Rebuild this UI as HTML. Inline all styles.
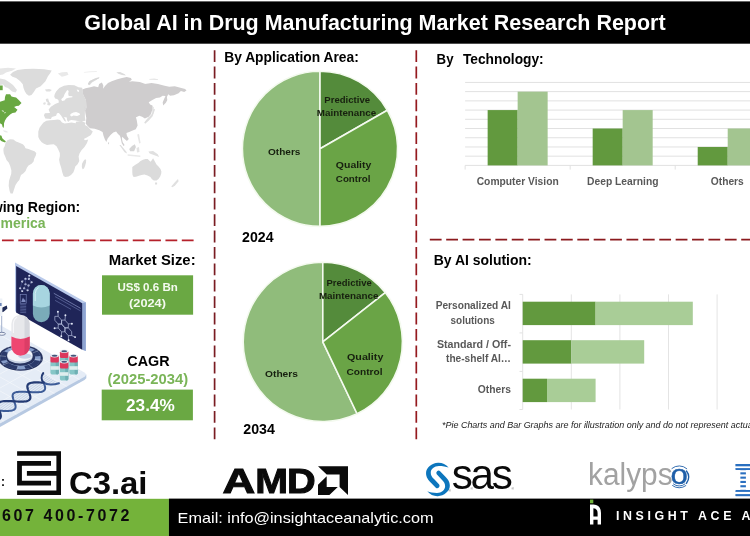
<!DOCTYPE html>
<html lang="en"><head><meta charset="utf-8"><title>Global AI in Drug Manufacturing Market Research Report</title>
<style>
html,body{margin:0;padding:0;background:#fff;}
body{width:750px;height:536px;overflow:hidden;}
svg{display:block;font-family:"Liberation Sans",sans-serif;}
</style></head><body>
<svg width="750" height="536" viewBox="0 0 750 536">
<defs><filter id="mb" x="-5%" y="-5%" width="110%" height="110%"><feGaussianBlur stdDeviation="0.45"/></filter></defs>
<rect width="750" height="536" fill="#fff"/>
<g id="illustration">
<polygon points="86.30,374.50 86.30,378.20 84.50,380.00 0.00,427.00 0.00,423.00" fill="#b7c9e2"/>
<polygon points="86.30,374.20 84.00,372.20 0.00,325.00 0.00,423.40 85.00,376.40" fill="#e5ecf6"/>
<clipPath id="fl"><polygon points="86.30,374.20 84.00,372.20 0.00,325.00 0.00,423.40 85.00,376.40"/></clipPath><g clip-path="url(#fl)">
<line x1="0" y1="307.0" x2="86" y2="355.2" stroke="#f3f7fb" stroke-width="0.7"/>
<line x1="0" y1="321.0" x2="86" y2="369.2" stroke="#f3f7fb" stroke-width="0.7"/>
<line x1="0" y1="335.0" x2="86" y2="383.2" stroke="#f3f7fb" stroke-width="0.7"/>
<line x1="0" y1="349.0" x2="86" y2="397.2" stroke="#f3f7fb" stroke-width="0.7"/>
<line x1="0" y1="363.0" x2="86" y2="411.2" stroke="#f3f7fb" stroke-width="0.7"/>
<line x1="0" y1="377.0" x2="86" y2="425.2" stroke="#f3f7fb" stroke-width="0.7"/>
<line x1="0" y1="391.0" x2="86" y2="439.2" stroke="#f3f7fb" stroke-width="0.7"/>
<line x1="0" y1="405.0" x2="86" y2="453.2" stroke="#f3f7fb" stroke-width="0.7"/>
<line x1="0" y1="419.0" x2="86" y2="467.2" stroke="#f3f7fb" stroke-width="0.7"/>
<line x1="0" y1="360.0" x2="86" y2="311.8" stroke="#f3f7fb" stroke-width="0.7"/>
<line x1="0" y1="374.0" x2="86" y2="325.8" stroke="#f3f7fb" stroke-width="0.7"/>
<line x1="0" y1="388.0" x2="86" y2="339.8" stroke="#f3f7fb" stroke-width="0.7"/>
<line x1="0" y1="402.0" x2="86" y2="353.8" stroke="#f3f7fb" stroke-width="0.7"/>
<line x1="0" y1="416.0" x2="86" y2="367.8" stroke="#f3f7fb" stroke-width="0.7"/>
<line x1="0" y1="430.0" x2="86" y2="381.8" stroke="#f3f7fb" stroke-width="0.7"/>
<line x1="0" y1="444.0" x2="86" y2="395.8" stroke="#f3f7fb" stroke-width="0.7"/>
<line x1="0" y1="458.0" x2="86" y2="409.8" stroke="#f3f7fb" stroke-width="0.7"/>
</g>
<polygon points="15.00,262.40 85.80,302.20 85.80,351.00 15.00,311.20" fill="#b9c9ea"/>
<polygon points="82.20,303.20 85.80,302.20 85.80,351.00 82.20,349.80" fill="#8ea4d2"/>
<polygon points="16.10,265.90 82.20,303.30 82.20,349.80 16.10,312.60" fill="#1f2558"/>
<rect x="32.9" y="285" width="16.8" height="37.2" rx="8.4" fill="#7aabb9"/>
<path d="M32.9,305.5 V293.4 A8.4,8.4 0 0 1 49.7,293.4 V305.5 Q41.3,309.5 32.9,305.5 Z" fill="#a7d5e0"/>
<path d="M35.2,301 V293.5 Q35.6,289 38.6,287.6" fill="none" stroke="#d3eef4" stroke-width="1"/>
<circle cx="29.3" cy="275.8" r="1.05" fill="#e6ecfa"/>
<circle cx="25.5" cy="278.9" r="1.05" fill="#e6ecfa"/>
<circle cx="28.9" cy="278.9" r="1.05" fill="#e6ecfa"/>
<circle cx="22.2" cy="281.6" r="1.05" fill="#e6ecfa"/>
<circle cx="31.6" cy="282.3" r="1.05" fill="#e6ecfa"/>
<circle cx="25.5" cy="284.3" r="1.05" fill="#e6ecfa"/>
<circle cx="28.5" cy="285.6" r="1.05" fill="#e6ecfa"/>
<circle cx="20.2" cy="288.3" r="1.05" fill="#e6ecfa"/>
<circle cx="24.2" cy="288.3" r="1.05" fill="#e6ecfa"/>
<circle cx="22.2" cy="291.0" r="1.05" fill="#e6ecfa"/>
<circle cx="27.6" cy="290.3" r="1.05" fill="#e6ecfa"/>
<line x1="29.3" y1="275.8" x2="28.9" y2="278.9" stroke="#5e6aa6" stroke-width="0.45"/>
<line x1="25.5" y1="278.9" x2="28.9" y2="278.9" stroke="#5e6aa6" stroke-width="0.45"/>
<line x1="25.5" y1="278.9" x2="22.2" y2="281.6" stroke="#5e6aa6" stroke-width="0.45"/>
<line x1="28.9" y1="278.9" x2="31.6" y2="282.3" stroke="#5e6aa6" stroke-width="0.45"/>
<line x1="25.5" y1="278.9" x2="25.5" y2="284.3" stroke="#5e6aa6" stroke-width="0.45"/>
<line x1="25.5" y1="284.3" x2="28.5" y2="285.6" stroke="#5e6aa6" stroke-width="0.45"/>
<line x1="31.6" y1="282.3" x2="28.5" y2="285.6" stroke="#5e6aa6" stroke-width="0.45"/>
<line x1="22.2" y1="281.6" x2="20.2" y2="288.3" stroke="#5e6aa6" stroke-width="0.45"/>
<line x1="25.5" y1="284.3" x2="24.2" y2="288.3" stroke="#5e6aa6" stroke-width="0.45"/>
<line x1="20.2" y1="288.3" x2="22.2" y2="291.0" stroke="#5e6aa6" stroke-width="0.45"/>
<line x1="24.2" y1="288.3" x2="22.2" y2="291.0" stroke="#5e6aa6" stroke-width="0.45"/>
<line x1="28.5" y1="285.6" x2="27.6" y2="290.3" stroke="#5e6aa6" stroke-width="0.45"/>
<line x1="24.2" y1="288.3" x2="27.6" y2="290.3" stroke="#5e6aa6" stroke-width="0.45"/>
<rect x="20.2" y="294.6" width="6" height="8.6" fill="none" stroke="#7f8cc0" stroke-width="0.6"/>
<polygon points="21.2,302 23,297.5 24.3,300 25,299 25.6,302" fill="#7f8cc0"/>
<line x1="20.2" y1="304.6" x2="26.2" y2="304.9" stroke="#6c79b0" stroke-width="0.6"/>
<line x1="20.2" y1="306.2" x2="26.2" y2="306.5" stroke="#6c79b0" stroke-width="0.6"/>
<line x1="20.2" y1="307.7" x2="26.2" y2="308.0" stroke="#6c79b0" stroke-width="0.6"/>
<line x1="20.2" y1="309.2" x2="26.2" y2="309.6" stroke="#6c79b0" stroke-width="0.6"/>
<line x1="20.2" y1="310.8" x2="26.2" y2="311.1" stroke="#6c79b0" stroke-width="0.6"/>
<line x1="20.2" y1="312.4" x2="26.2" y2="312.7" stroke="#6c79b0" stroke-width="0.6"/>
<line x1="53.8" y1="293.3" x2="80.6" y2="308.3" stroke="#8a94c4" stroke-width="0.7"/>
<line x1="55.1" y1="296.6" x2="80.6" y2="310.9" stroke="#6f7ab0" stroke-width="0.6"/>
<line x1="55.1" y1="300.4" x2="71.0" y2="309.3" stroke="#6f7ab0" stroke-width="0.6"/>
<polygon points="61.58,324.04 58.20,324.10 54.82,320.26 54.82,316.36 58.20,316.30 61.58,320.14" fill="none" stroke="#c9d3f0" stroke-width="0.6"/>
<polygon points="68.33,327.82 64.95,327.88 61.57,324.04 61.57,320.14 64.95,320.08 68.33,323.92" fill="none" stroke="#c9d3f0" stroke-width="0.6"/>
<polygon points="64.98,331.80 61.60,331.85 58.22,328.01 58.22,324.11 61.60,324.05 64.98,327.90" fill="none" stroke="#c9d3f0" stroke-width="0.6"/>
<polygon points="71.68,335.55 68.30,335.61 64.92,331.76 64.92,327.86 68.30,327.81 71.68,331.65" fill="none" stroke="#c9d3f0" stroke-width="0.6"/>
<line x1="58.2" y1="316.3" x2="57.9" y2="311.7" stroke="#c9d3f0" stroke-width="0.6"/>
<circle cx="57.9" cy="311.7" r="0.95" fill="#e6ecfa"/>
<line x1="65.0" y1="320.1" x2="65.4" y2="315.3" stroke="#c9d3f0" stroke-width="0.6"/>
<circle cx="65.4" cy="315.3" r="0.95" fill="#e6ecfa"/>
<line x1="68.3" y1="323.9" x2="71.9" y2="323.7" stroke="#c9d3f0" stroke-width="0.6"/>
<circle cx="71.9" cy="323.7" r="0.95" fill="#e6ecfa"/>
<line x1="58.2" y1="328.0" x2="54.6" y2="328.2" stroke="#c9d3f0" stroke-width="0.6"/>
<circle cx="54.6" cy="328.2" r="0.95" fill="#e6ecfa"/>
<line x1="61.6" y1="331.9" x2="61.3" y2="336.3" stroke="#c9d3f0" stroke-width="0.6"/>
<circle cx="61.3" cy="336.3" r="0.95" fill="#e6ecfa"/>
<line x1="68.3" y1="335.6" x2="68.6" y2="340.2" stroke="#c9d3f0" stroke-width="0.6"/>
<circle cx="68.6" cy="340.2" r="0.95" fill="#e6ecfa"/>
<line x1="71.7" y1="335.5" x2="75.1" y2="337.1" stroke="#c9d3f0" stroke-width="0.6"/>
<circle cx="75.1" cy="337.1" r="0.95" fill="#e6ecfa"/>
<polygon points="1.20,308.00 6.80,305.60 7.40,308.40 3.60,311.80 1.20,312.40" fill="#1f2a55"/>
<rect x="0" y="298.5" width="2.4" height="17.5" fill="#eef2f8"/>
<rect x="0" y="303" width="1.6" height="3" fill="#6d86b8"/>
<line x1="1.7" y1="316" x2="1.7" y2="333.5" stroke="#a3b0cc" stroke-width="1.0"/>
<ellipse cx="1.8" cy="333.8" rx="3.6" ry="1.5" fill="#eef2f8" stroke="#4a5a84" stroke-width="0.7"/>
<g transform="translate(20.5,357.9) scale(1,0.575)">
<circle r="22.4" fill="#27335f"/>
<circle r="20.2" fill="#869dc9"/>
<path d="M16.81,4.50 A17.4,17.4 0 0 1 4.50,16.81" fill="none" stroke="#2b3a6a" stroke-width="5.6"/>
<path d="M-3.02,17.14 A17.4,17.4 0 0 1 -15.07,8.70" fill="none" stroke="#2b3a6a" stroke-width="5.6"/>
<path d="M-16.81,4.50 A17.4,17.4 0 0 1 -14.25,-9.98" fill="none" stroke="#2b3a6a" stroke-width="5.6"/>
<path d="M-7.35,-15.77 A17.4,17.4 0 0 1 8.70,-15.07" fill="none" stroke="#2b3a6a" stroke-width="5.6"/>
<path d="M12.30,-12.30 A17.4,17.4 0 0 1 17.14,-3.02" fill="none" stroke="#2b3a6a" stroke-width="5.6"/>
<line x1="0" y1="0" x2="21.67" y2="3.82" stroke="#dfe7f3" stroke-width="0.45"/>
<line x1="0" y1="0" x2="12.62" y2="18.02" stroke="#dfe7f3" stroke-width="0.45"/>
<line x1="0" y1="0" x2="-3.82" y2="21.67" stroke="#dfe7f3" stroke-width="0.45"/>
<line x1="0" y1="0" x2="-18.02" y2="12.62" stroke="#dfe7f3" stroke-width="0.45"/>
<line x1="0" y1="0" x2="-21.67" y2="-3.82" stroke="#dfe7f3" stroke-width="0.45"/>
<line x1="0" y1="0" x2="-12.62" y2="-18.02" stroke="#dfe7f3" stroke-width="0.45"/>
<line x1="0" y1="0" x2="3.82" y2="-21.67" stroke="#dfe7f3" stroke-width="0.45"/>
<line x1="0" y1="0" x2="18.02" y2="-12.62" stroke="#dfe7f3" stroke-width="0.45"/>
<circle r="14.6" cy="-0.8" fill="#27335f"/>
</g>
<ellipse cx="19.9" cy="356.8" rx="12.7" ry="6.7" fill="#c6d1e4"/>
<ellipse cx="19.9" cy="354.9" rx="12.7" ry="6.6" fill="#f2f5fa"/>
<ellipse cx="25" cy="356.2" rx="6.5" ry="2.6" fill="#c9d4e8"/>
<rect x="11.4" y="314.7" width="18.2" height="41" rx="9.1" fill="#e7e8eb"/>
<path d="M24.5,316.4 A9.1,9.1 0 0 1 29.6,323.8 V337.6 Q27.4,338.6 24.5,339.2 Z" fill="#d5d7dd"/>
<path d="M11.4,336.6 Q20.5,341.3 29.6,336.6 V346.6 A9.1,9.1 0 0 1 11.4,346.6 Z" fill="#ee4671"/>
<path d="M24.5,339 Q27.4,338.2 29.6,336.8 V346.6 A9.1,9.1 0 0 1 24.5,354.8 Z" fill="#dc3d66"/>
<path d="M13.4,333 V323.6 Q13.8,319 17,317.2" fill="none" stroke="#f8f8fa" stroke-width="1.1"/>
<rect x="59.9" y="356.2" width="8.5" height="13.6" rx="1.6" fill="#86c6c7"/>
<rect x="65.2" y="356.2" width="3.2" height="13.6" rx="1.4" fill="#6fb0b4"/>
<rect x="59.9" y="361.6" width="8.5" height="3.6" fill="#dfeeee"/>
<rect x="59.9" y="350.6" width="8.5" height="7.4" rx="1.6" fill="#dc385d"/>
<ellipse cx="64.2" cy="351.2" rx="4.2" ry="1.7" fill="#e9eef4"/>
<ellipse cx="64.2" cy="351.2" rx="2.9" ry="1.0" fill="#46557a"/>
<rect x="50.4" y="360.8" width="8.5" height="13.6" rx="1.6" fill="#86c6c7"/>
<rect x="55.7" y="360.8" width="3.2" height="13.6" rx="1.4" fill="#6fb0b4"/>
<rect x="50.4" y="366.2" width="8.5" height="3.6" fill="#dfeeee"/>
<rect x="50.4" y="355.2" width="8.5" height="7.4" rx="1.6" fill="#dc385d"/>
<ellipse cx="54.6" cy="355.8" rx="4.2" ry="1.7" fill="#e9eef4"/>
<ellipse cx="54.6" cy="355.8" rx="2.9" ry="1.0" fill="#46557a"/>
<rect x="69.3" y="360.8" width="8.5" height="13.6" rx="1.6" fill="#86c6c7"/>
<rect x="74.6" y="360.8" width="3.2" height="13.6" rx="1.4" fill="#6fb0b4"/>
<rect x="69.3" y="366.2" width="8.5" height="3.6" fill="#dfeeee"/>
<rect x="69.3" y="355.2" width="8.5" height="7.4" rx="1.6" fill="#dc385d"/>
<ellipse cx="73.5" cy="355.8" rx="4.2" ry="1.7" fill="#e9eef4"/>
<ellipse cx="73.5" cy="355.8" rx="2.9" ry="1.0" fill="#46557a"/>
<rect x="59.9" y="366.8" width="8.5" height="13.6" rx="1.6" fill="#86c6c7"/>
<rect x="65.2" y="366.8" width="3.2" height="13.6" rx="1.4" fill="#6fb0b4"/>
<rect x="59.9" y="372.2" width="8.5" height="3.6" fill="#dfeeee"/>
<rect x="59.9" y="361.2" width="8.5" height="7.4" rx="1.6" fill="#dc385d"/>
<ellipse cx="64.2" cy="361.8" rx="4.2" ry="1.7" fill="#e9eef4"/>
<ellipse cx="64.2" cy="361.8" rx="2.9" ry="1.0" fill="#46557a"/>
<clipPath id="dn"><polygon points="43.69,382.67 41.97,382.57 40.26,382.48 38.60,382.42 36.99,382.38 35.47,382.38 34.05,382.44 32.74,382.55 31.57,382.73 30.52,382.97 29.63,383.29 28.88,383.68 28.29,384.15 27.84,384.69 27.54,385.31 27.38,385.99 27.34,386.74 27.42,387.54 27.60,388.39 27.85,389.29 28.17,390.21 28.53,391.15 28.90,392.11 29.28,393.06 29.62,394.00 29.93,394.92 30.17,395.80 30.32,396.64 30.37,397.43 30.31,398.17 30.11,398.83 29.78,399.43 29.30,399.96 28.67,400.41 27.89,400.78 26.96,401.08 25.88,401.31 24.67,401.47 23.33,401.57 21.89,401.61 20.35,401.60 18.73,401.56 17.05,401.49 15.34,401.39 13.61,401.29 11.88,401.20 10.19,401.12 8.54,401.06 6.97,401.03 5.48,401.05 4.09,401.13 2.82,401.26 1.69,401.46 0.69,401.72 -0.16,402.06 -0.85,402.48 -1.40,402.97 -1.79,403.54 -2.05,404.18 -2.17,404.88 -2.17,405.65 -2.06,406.47 -1.85,407.34 -1.58,408.24 -1.24,409.17 -0.88,410.12 -0.50,411.07 -0.13,412.02 0.20,412.96 0.49,413.87 0.70,414.74 0.82,415.56 0.84,416.34 0.73,417.05 0.50,417.69 0.11,418.27 -0.41,418.77 -1.09,419.20 -1.92,419.54 -2.90,419.82 -16.61,412.97 -16.23,412.39 -15.71,411.89 -15.04,411.46 -14.22,411.10 -13.25,410.82 -12.13,410.61 -10.89,410.47 -9.52,410.39 -8.05,410.36 -6.48,410.38 -4.84,410.43 -3.16,410.51 -1.44,410.61 0.29,410.71 2.01,410.80 3.70,410.88 5.33,410.93 6.88,410.94 8.34,410.91 9.70,410.82 10.93,410.67 12.03,410.45 12.98,410.16 13.79,409.80 14.44,409.36 14.95,408.85 15.31,408.26 15.52,407.61 15.61,406.89 15.57,406.10 15.44,405.27 15.21,404.39 14.92,403.48 14.57,402.54 14.20,401.59 13.82,400.64 13.46,399.69 13.14,398.76 12.87,397.87 12.68,397.01 12.59,396.19 12.60,395.44 12.74,394.74 13.02,394.11 13.44,393.56 14.01,393.08 14.73,392.68 15.61,392.35 16.62,392.09 17.78,391.90 19.07,391.78 20.47,391.72 21.98,391.71 23.57,391.74 25.22,391.80 26.93,391.88 28.65,391.98 30.38,392.08 32.09,392.17 33.76,392.24 35.36,392.28 36.89,392.28 38.32,392.23 39.64,392.12 40.83,391.95 41.88,391.71 42.79,391.40 43.54,391.01 44.15,390.55 44.61,390.01 44.92,389.40 45.09,388.72 45.13,387.98 45.06,387.18 44.90,386.33 44.65,385.44 44.33,384.52 43.98,383.58 43.60,382.62"/><polygon points="43.6,382.6 41.4,378 43.2,373.2 47,375.5 59,383.2 52,385 "/></clipPath>
<g clip-path="url(#dn)">
<rect x="-5" y="368" width="70" height="52" fill="#f1f5fa"/>
<line x1="-6" y1="312.0" x2="66" y2="348.0" stroke="#9fb6d6" stroke-width="0.55"/>
<line x1="-6" y1="313.7" x2="66" y2="349.7" stroke="#9fb6d6" stroke-width="0.55"/>
<line x1="-6" y1="315.4" x2="66" y2="351.4" stroke="#9fb6d6" stroke-width="0.55"/>
<line x1="-6" y1="317.1" x2="66" y2="353.1" stroke="#9fb6d6" stroke-width="0.55"/>
<line x1="-6" y1="318.8" x2="66" y2="354.8" stroke="#9fb6d6" stroke-width="0.55"/>
<line x1="-6" y1="320.5" x2="66" y2="356.5" stroke="#9fb6d6" stroke-width="0.55"/>
<line x1="-6" y1="322.2" x2="66" y2="358.2" stroke="#9fb6d6" stroke-width="0.55"/>
<line x1="-6" y1="323.9" x2="66" y2="359.9" stroke="#9fb6d6" stroke-width="0.55"/>
<line x1="-6" y1="325.6" x2="66" y2="361.6" stroke="#9fb6d6" stroke-width="0.55"/>
<line x1="-6" y1="327.3" x2="66" y2="363.3" stroke="#9fb6d6" stroke-width="0.55"/>
<line x1="-6" y1="329.0" x2="66" y2="365.0" stroke="#9fb6d6" stroke-width="0.55"/>
<line x1="-6" y1="330.7" x2="66" y2="366.7" stroke="#9fb6d6" stroke-width="0.55"/>
<line x1="-6" y1="332.4" x2="66" y2="368.4" stroke="#9fb6d6" stroke-width="0.55"/>
<line x1="-6" y1="334.1" x2="66" y2="370.1" stroke="#9fb6d6" stroke-width="0.55"/>
<line x1="-6" y1="335.8" x2="66" y2="371.8" stroke="#9fb6d6" stroke-width="0.55"/>
<line x1="-6" y1="337.5" x2="66" y2="373.5" stroke="#9fb6d6" stroke-width="0.55"/>
<line x1="-6" y1="339.2" x2="66" y2="375.2" stroke="#9fb6d6" stroke-width="0.55"/>
<line x1="-6" y1="340.9" x2="66" y2="376.9" stroke="#9fb6d6" stroke-width="0.55"/>
<line x1="-6" y1="342.6" x2="66" y2="378.6" stroke="#9fb6d6" stroke-width="0.55"/>
<line x1="-6" y1="344.3" x2="66" y2="380.3" stroke="#9fb6d6" stroke-width="0.55"/>
<line x1="-6" y1="346.0" x2="66" y2="382.0" stroke="#9fb6d6" stroke-width="0.55"/>
<line x1="-6" y1="347.7" x2="66" y2="383.7" stroke="#9fb6d6" stroke-width="0.55"/>
<line x1="-6" y1="349.4" x2="66" y2="385.4" stroke="#9fb6d6" stroke-width="0.55"/>
<line x1="-6" y1="351.1" x2="66" y2="387.1" stroke="#9fb6d6" stroke-width="0.55"/>
<line x1="-6" y1="352.8" x2="66" y2="388.8" stroke="#9fb6d6" stroke-width="0.55"/>
<line x1="-6" y1="354.5" x2="66" y2="390.5" stroke="#9fb6d6" stroke-width="0.55"/>
<line x1="-6" y1="356.2" x2="66" y2="392.2" stroke="#9fb6d6" stroke-width="0.55"/>
<line x1="-6" y1="357.9" x2="66" y2="393.9" stroke="#9fb6d6" stroke-width="0.55"/>
<line x1="-6" y1="359.6" x2="66" y2="395.6" stroke="#9fb6d6" stroke-width="0.55"/>
<line x1="-6" y1="361.3" x2="66" y2="397.3" stroke="#9fb6d6" stroke-width="0.55"/>
<line x1="-6" y1="363.0" x2="66" y2="399.0" stroke="#9fb6d6" stroke-width="0.55"/>
<line x1="-6" y1="364.7" x2="66" y2="400.7" stroke="#9fb6d6" stroke-width="0.55"/>
<line x1="-6" y1="366.4" x2="66" y2="402.4" stroke="#9fb6d6" stroke-width="0.55"/>
<line x1="-6" y1="368.1" x2="66" y2="404.1" stroke="#9fb6d6" stroke-width="0.55"/>
<line x1="-6" y1="369.8" x2="66" y2="405.8" stroke="#9fb6d6" stroke-width="0.55"/>
<line x1="-6" y1="371.5" x2="66" y2="407.5" stroke="#9fb6d6" stroke-width="0.55"/>
<line x1="-6" y1="373.2" x2="66" y2="409.2" stroke="#9fb6d6" stroke-width="0.55"/>
<line x1="-6" y1="374.9" x2="66" y2="410.9" stroke="#9fb6d6" stroke-width="0.55"/>
<line x1="-6" y1="376.6" x2="66" y2="412.6" stroke="#9fb6d6" stroke-width="0.55"/>
<line x1="-6" y1="378.3" x2="66" y2="414.3" stroke="#9fb6d6" stroke-width="0.55"/>
<line x1="-6" y1="380.0" x2="66" y2="416.0" stroke="#9fb6d6" stroke-width="0.55"/>
<line x1="-6" y1="381.7" x2="66" y2="417.7" stroke="#9fb6d6" stroke-width="0.55"/>
<line x1="-6" y1="383.4" x2="66" y2="419.4" stroke="#9fb6d6" stroke-width="0.55"/>
<line x1="-6" y1="385.1" x2="66" y2="421.1" stroke="#9fb6d6" stroke-width="0.55"/>
<line x1="-6" y1="386.8" x2="66" y2="422.8" stroke="#9fb6d6" stroke-width="0.55"/>
<line x1="-6" y1="388.5" x2="66" y2="424.5" stroke="#9fb6d6" stroke-width="0.55"/>
<line x1="-6" y1="390.2" x2="66" y2="426.2" stroke="#9fb6d6" stroke-width="0.55"/>
<line x1="-6" y1="391.9" x2="66" y2="427.9" stroke="#9fb6d6" stroke-width="0.55"/>
<line x1="-6" y1="393.6" x2="66" y2="429.6" stroke="#9fb6d6" stroke-width="0.55"/>
<line x1="-6" y1="395.3" x2="66" y2="431.3" stroke="#9fb6d6" stroke-width="0.55"/>
<line x1="-6" y1="397.0" x2="66" y2="433.0" stroke="#9fb6d6" stroke-width="0.55"/>
<line x1="-6" y1="398.7" x2="66" y2="434.7" stroke="#9fb6d6" stroke-width="0.55"/>
<line x1="-6" y1="400.4" x2="66" y2="436.4" stroke="#9fb6d6" stroke-width="0.55"/>
<line x1="-6" y1="402.1" x2="66" y2="438.1" stroke="#9fb6d6" stroke-width="0.55"/>
<line x1="-6" y1="403.8" x2="66" y2="439.8" stroke="#9fb6d6" stroke-width="0.55"/>
<line x1="-6" y1="405.5" x2="66" y2="441.5" stroke="#9fb6d6" stroke-width="0.55"/>
<line x1="-6" y1="407.2" x2="66" y2="443.2" stroke="#9fb6d6" stroke-width="0.55"/>
<line x1="-6" y1="408.9" x2="66" y2="444.9" stroke="#9fb6d6" stroke-width="0.55"/>
<line x1="-6" y1="410.6" x2="66" y2="446.6" stroke="#9fb6d6" stroke-width="0.55"/>
<line x1="-6" y1="412.3" x2="66" y2="448.3" stroke="#9fb6d6" stroke-width="0.55"/>
<line x1="-6" y1="414.0" x2="66" y2="450.0" stroke="#9fb6d6" stroke-width="0.55"/>
<line x1="-6" y1="415.7" x2="66" y2="451.7" stroke="#9fb6d6" stroke-width="0.55"/>
<line x1="-6" y1="417.4" x2="66" y2="453.4" stroke="#9fb6d6" stroke-width="0.55"/>
<line x1="-6" y1="419.1" x2="66" y2="455.1" stroke="#9fb6d6" stroke-width="0.55"/>
<line x1="-6" y1="420.8" x2="66" y2="456.8" stroke="#9fb6d6" stroke-width="0.55"/>
<line x1="-6" y1="422.5" x2="66" y2="458.5" stroke="#9fb6d6" stroke-width="0.55"/>
<line x1="-6" y1="424.2" x2="66" y2="460.2" stroke="#9fb6d6" stroke-width="0.55"/>
<line x1="-6" y1="425.9" x2="66" y2="461.9" stroke="#9fb6d6" stroke-width="0.55"/>
<line x1="-6" y1="427.6" x2="66" y2="463.6" stroke="#9fb6d6" stroke-width="0.55"/>
<line x1="-6" y1="429.3" x2="66" y2="465.3" stroke="#9fb6d6" stroke-width="0.55"/>
<line x1="-6" y1="431.0" x2="66" y2="467.0" stroke="#9fb6d6" stroke-width="0.55"/>
</g>
<path d="M43.6,382.6 C41,380 41.2,376 43.2,373.2" fill="none" stroke="#243b74" stroke-width="2.1" stroke-linecap="round"/>
<path d="M43.6,382.6 C47,385.2 54,385 59,383.2" fill="none" stroke="#3d5c98" stroke-width="2.0" stroke-linecap="round"/>
<polyline points="43.60,382.62 43.98,383.58 44.33,384.52 44.65,385.44 44.90,386.33 45.06,387.18 45.13,387.98 45.09,388.72 44.92,389.40 44.61,390.01 44.15,390.55 43.54,391.01 42.79,391.40 41.88,391.71 40.83,391.95 39.64,392.12 38.32,392.23 36.89,392.28 35.36,392.28 33.76,392.24 32.09,392.17 30.38,392.08 28.65,391.98 26.93,391.88 25.22,391.80 23.57,391.74 21.98,391.71 20.47,391.72 19.07,391.78 17.78,391.90 16.62,392.09 15.61,392.35 14.73,392.68 14.01,393.08 13.44,393.56 13.02,394.11 12.74,394.74 12.60,395.44 12.59,396.19 12.68,397.01 12.87,397.87 13.14,398.76 13.46,399.69 13.82,400.64 14.20,401.59 14.57,402.54 14.92,403.48 15.21,404.39 15.44,405.27 15.57,406.10 15.61,406.89 15.52,407.61 15.31,408.26 14.95,408.85 14.44,409.36 13.79,409.80 12.98,410.16 12.03,410.45 10.93,410.67 9.70,410.82 8.34,410.91 6.88,410.94 5.33,410.93 3.70,410.88 2.01,410.80 0.29,410.71 -1.44,410.61 -3.16,410.51 -4.84,410.43 -6.48,410.38 -8.05,410.36 -9.52,410.39 -10.89,410.47 -12.13,410.61 -13.25,410.82 -14.22,411.10 -15.04,411.46 -15.71,411.89 -16.23,412.39 -16.61,412.97" fill="none" stroke="#3d5c98" stroke-width="2.0" stroke-linecap="round"/>
<polyline points="43.69,382.67 41.97,382.57 40.26,382.48 38.60,382.42 36.99,382.38 35.47,382.38 34.05,382.44 32.74,382.55 31.57,382.73 30.52,382.97 29.63,383.29 28.88,383.68 28.29,384.15 27.84,384.69 27.54,385.31 27.38,385.99 27.34,386.74 27.42,387.54 27.60,388.39 27.85,389.29 28.17,390.21 28.53,391.15 28.90,392.11 29.28,393.06 29.62,394.00 29.93,394.92 30.17,395.80 30.32,396.64 30.37,397.43 30.31,398.17 30.11,398.83 29.78,399.43 29.30,399.96 28.67,400.41 27.89,400.78 26.96,401.08 25.88,401.31 24.67,401.47 23.33,401.57 21.89,401.61 20.35,401.60 18.73,401.56 17.05,401.49 15.34,401.39 13.61,401.29 11.88,401.20 10.19,401.12 8.54,401.06 6.97,401.03 5.48,401.05 4.09,401.13 2.82,401.26 1.69,401.46 0.69,401.72 -0.16,402.06 -0.85,402.48 -1.40,402.97 -1.79,403.54 -2.05,404.18 -2.17,404.88 -2.17,405.65 -2.06,406.47 -1.85,407.34 -1.58,408.24 -1.24,409.17 -0.88,410.12 -0.50,411.07 -0.13,412.02 0.20,412.96 0.49,413.87 0.70,414.74 0.82,415.56 0.84,416.34 0.73,417.05 0.50,417.69 0.11,418.27 -0.41,418.77 -1.09,419.20 -1.92,419.54 -2.90,419.82" fill="none" stroke="#243b74" stroke-width="2.2" stroke-linecap="round"/>
</g>
<rect x="0" y="1.4" width="750" height="42.3" fill="#000"/>
<text x="84.20" y="30.20" font-size="21.40" font-weight="bold" fill="#fff" text-anchor="start" textLength="581.40" lengthAdjust="spacingAndGlyphs" >Global AI in Drug Manufacturing Market Research Report</text>
<g filter="url(#mb)"><polygon points="10.1,74.8 13.0,72.0 17.5,70.1 25.0,69.0 33.6,68.7 44.0,69.3 51.7,70.5 50.0,73.5 48.1,76.0 45.3,81.6 40.7,86.3 36.0,88.6 33.8,92.0 31.5,95.0 28.9,95.8 26.5,94.0 24.9,91.6 23.5,88.0 22.8,84.2 20.0,81.0 16.1,78.1 12.5,76.8" fill="#dcdcdc"/>
<polygon points="0.0,68.6 8.0,67.8 16.0,68.5 12.0,70.8 6.0,72.5 3.0,74.5 0.0,75.0" fill="#e6e6e6"/>
<polygon points="0.0,78.5 5.0,79.5 9.0,82.0 13.0,85.0 17.0,90.0 15.5,92.5 12.0,91.5 8.0,88.0 5.0,87.0 3.0,84.5 0.0,85.0" fill="#e0e0e0"/>
<polygon points="6.0,94.3 10.1,94.3 11.5,96.5 13.4,97.0 16.1,97.6 19.0,100.2 21.5,103.0 18.8,105.7 16.5,106.0 14.1,107.0 17.5,109.7 15.5,112.4 12.5,113.0 10.1,114.4 8.0,116.5 6.7,117.8 5.0,120.5 4.0,123.2 4.0,125.5 3.6,128.0 2.6,127.0 2.0,124.5 0.0,123.2 0.0,101.7 4.7,100.3 5.0,97.0" fill="#69a842"/>
<polygon points="0.0,85.5 2.7,85.5 2.7,90.2 0.0,90.2" fill="#69a842"/>
<ellipse cx="2.9" cy="111" rx="1.3" ry="0.55" fill="#d4e6c8" transform="rotate(25 2.9 111)"/>
<ellipse cx="4.9" cy="112.7" rx="1.0" ry="0.5" fill="#d4e6c8" transform="rotate(-20 4.9 112.7)"/>
<polygon points="0.0,135.3 1.5,135.8 2.3,138.2 4.2,140.0 5.8,141.2 5.2,142.6 3.0,141.8 1.2,141.0 0.0,139.8" fill="#69a842"/>
<polygon points="3.0,130.2 6.0,130.8 8.5,132.2 6.0,132.6 3.8,131.6" fill="#e9e9e9"/>
<polygon points="7.4,140.2 10.0,139.2 13.4,139.6 16.0,141.5 18.1,142.3 22.8,144.3 24.5,146.0 25.5,148.3 28.5,149.0 31.6,150.3 34.5,151.3 36.3,153.0 35.8,155.5 34.3,158.4 33.6,161.5 31.6,163.8 28.5,165.5 26.9,167.8 25.6,171.0 23.5,173.2 21.0,175.0 20.2,177.2 19.3,180.0 17.5,182.0 15.5,185.0 14.5,188.0 13.5,191.0 12.8,193.5 10.6,193.5 9.6,191.0 8.7,186.0 9.0,181.0 10.1,177.2 11.2,174.0 11.4,170.5 10.2,166.0 8.7,162.4 6.5,160.0 5.4,157.0 3.8,153.5 3.4,150.3 3.6,148.0 4.7,146.3 5.5,143.0" fill="#dcdcdc"/>
<polygon points="38.3,131.5 39.5,127.8 41.7,124.8 43.5,122.5 46.4,120.8 50.0,120.2 53.8,120.1 57.8,119.6 60.0,120.0 62.0,122.5 64.5,123.6 68.5,123.0 71.5,122.6 75.5,123.2 77.6,123.8 78.4,127.0 80.0,131.0 81.2,134.5 82.6,137.8 85.0,140.2 88.2,139.6 87.0,143.0 84.5,147.0 81.5,150.3 79.5,153.5 78.6,156.5 79.3,161.1 77.6,164.2 75.3,166.5 74.3,170.0 73.3,172.5 71.0,175.0 68.5,176.4 65.5,177.0 63.6,176.3 62.2,172.0 61.2,167.8 59.8,163.5 59.1,159.7 59.9,156.0 59.8,153.0 58.0,149.0 56.5,146.3 53.8,144.3 50.5,144.4 47.0,144.9 44.0,143.8 41.7,142.3 39.5,139.5 38.3,136.9" fill="#dcdcdc"/>
<polygon points="82.0,163.8 83.5,161.0 85.3,159.1 86.1,160.5 86.0,162.4 85.2,165.5 84.0,168.5 82.6,169.3 81.8,167.0" fill="#dcdcdc"/>
<polygon points="55.1,98.4 54.2,96.5 54.7,94.2 56.1,91.4 59.3,88.1 64.0,85.8 68.7,84.9 74.3,85.3 78.5,87.2 82.2,87.7 83.2,94.7 86.0,100.3 86.4,107.7 84.6,112.4 85.0,118.0 85.5,120.8 80.8,121.6 75.2,120.6 71.5,119.9 69.6,120.6 68.2,121.9 67.0,119.9 66.8,117.5 64.0,117.1 65.1,119.1 66.3,121.8 64.5,121.0 62.6,118.0 61.2,115.7 58.9,112.9 57.0,113.3 56.1,115.7 51.9,117.1 50.9,119.0 45.3,118.5 43.9,115.2 44.9,113.3 50.0,112.9 48.6,109.6 50.9,106.8 55.1,104.0 58.9,102.6 58.4,100.1 57.0,98.9" fill="#dcdcdc"/>
<polygon points="67.3,90.0 68.7,90.9 68.2,93.7 68.7,95.9 72.4,96.2 72.4,97.3 68.7,97.7 66.1,98.6 64.5,100.5 62.1,101.0 61.2,99.3 63.5,97.0 64.5,94.2 65.9,91.9" fill="#ffffff"/>
<polygon points="70.5,113.9 73.3,112.6 76.1,111.9 79.4,113.2 80.1,114.7 77.1,116.0 73.3,115.6 71.7,116.5 70.2,115.4" fill="#ffffff"/>
<polygon points="76.7,89.6 78.8,90.0 79.1,91.9 77.5,91.5" fill="#ffffff"/>
<polygon points="45.8,98.9 48.1,98.4 49.1,101.7 50.9,104.0 49.5,105.4 47.2,104.9 47.7,102.6 46.1,101.2" fill="#dedede"/>
<polygon points="43.0,103.1 45.3,102.1 45.8,104.0 43.9,104.9" fill="#e2e2e2"/>
<polygon points="44.9,89.5 49.1,88.9 51.9,90.0 50.0,91.4 46.3,91.4" fill="#e0e0e0"/>
<polygon points="87.8,83.9 90.2,80.7 95.8,77.9 100.0,77.1 96.7,79.7 92.0,82.5 89.7,85.3" fill="#dedede"/>
<polygon points="57.8,73.4 62.0,72.3 67.2,72.1 68.5,74.8 65.0,76.0 61.8,76.8" fill="#e9e9e9"/>
<polygon points="76.0,121.8 81.6,120.9 85.3,122.7 84.9,125.1 87.7,126.5 90.0,129.3 92.8,131.6 90.9,134.9 86.3,137.7 81.6,140.0 80.2,136.7 77.9,132.1 76.5,128.8 75.1,126.5" fill="#dcdcdc"/>
<polygon points="82.3,89.6 85.6,88.2 90.3,87.3 94.0,86.3 98.2,87.3 99.1,84.0 101.9,82.6 103.3,85.4 103.1,88.7 105.0,86.1 108.0,83.1 111.7,81.2 117.3,79.3 122.0,77.9 126.7,77.0 130.9,77.9 131.8,79.8 129.0,81.7 132.3,81.2 139.8,82.1 145.4,84.0 150.0,84.9 144.9,84.0 151.5,83.1 158.0,84.0 163.6,85.4 169.2,86.8 174.8,86.3 180.4,87.7 185.1,89.1 186.5,90.5 184.2,91.9 180.9,91.0 178.6,93.3 173.9,95.2 170.1,95.7 168.3,94.3 166.9,97.1 167.3,99.9 165.9,102.7 163.1,105.5 162.7,102.2 164.1,98.9 165.5,96.1 162.7,95.7 159.9,97.5 156.1,98.0 152.4,99.9 148.7,102.2 150.1,104.5 152.4,105.5 152.4,109.2 151.0,113.9 148.7,116.7 144.9,118.6 142.1,116.7 139.3,115.8 135.6,117.6 133.7,120.0 135.8,117.1 136.7,119.9 137.6,125.5 135.8,129.3 132.0,130.7 129.2,132.1 126.4,133.0 126.9,135.8 128.8,139.1 126.9,140.9 124.6,139.1 122.2,136.7 121.9,138.8 122.7,142.3 124.6,145.1 123.6,146.1 121.8,143.3 120.6,137.7 119.9,135.8 118.0,133.9 116.1,131.6 113.3,132.5 110.5,134.9 107.7,138.6 106.3,141.9 104.9,139.5 103.5,135.8 102.6,132.1 99.3,130.2 94.7,128.8 90.0,128.3 87.7,126.0 85.8,123.7 86.3,118.1 85.3,112.5 84.9,105.0 85.0,118.0 84.6,112.4 86.4,107.7 86.0,100.3 83.2,94.7 82.4,89.8" fill="#cfcdce"/>
<polygon points="87.9,84.0 89.3,81.2 94.0,78.9 99.1,77.5 98.9,78.6 94.0,80.3 90.5,83.1 89.1,84.9" fill="#d6d6d6"/>
<polygon points="116.4,72.3 120.1,71.9 124.8,74.2 125.8,75.6 122.0,75.1 118.3,73.7" fill="#dcdcdc"/>
<polygon points="83.7,72.1 90.3,71.3 96.8,71.1 96.8,71.9 90.3,72.2 84.2,72.8" fill="#efefef"/>
<polygon points="149.1,78.9 154.3,78.6 158.0,79.3 158.0,79.9 149.6,79.7" fill="#e6e6e6"/>
<polygon points="152.4,105.5 153.5,107.3 153.9,112.0 153.0,113.9 152.4,111.1" fill="#dadada"/>
<polygon points="144.2,122.5 147.2,118.8 151.4,114.6 154.0,108.7 155.0,109.6 152.6,116.3 148.9,120.5 145.2,123.8" fill="#dedede"/>
<polygon points="108.0,142.2 109.2,142.7 108.8,144.4 108.0,143.5" fill="#d4d4d4"/>
<polygon points="119.4,145.1 120.8,145.1 126.4,151.7 126.9,153.6 124.6,152.2" fill="#dedede"/>
<polygon points="129.2,148.9 132.0,146.1 134.8,144.2 135.9,147.0 134.1,151.2 130.2,151.2" fill="#d6d6d6"/>
<polygon points="148.4,151.6 153.1,150.9 157.8,154.3 159.1,157.0 153.8,154.9 149.7,153.6" fill="#e0e0e0"/>
<polygon points="127.6,154.3 140.3,155.5 140.3,157.0 127.6,155.8" fill="#e9e9e9"/>
<polygon points="137.2,134.5 139.0,134.0 140.6,143.0 139.2,143.5" fill="#e6e6e6"/>
<polygon points="136.5,148.0 139.0,147.0 139.5,152.0 137.0,152.5" fill="#e4e4e4"/>
<polygon points="132.3,167.0 135.0,165.0 138.3,163.0 140.5,161.0 143.0,159.7 145.5,159.0 147.7,159.0 149.2,160.6 150.4,161.7 151.6,160.4 153.1,158.3 154.6,161.0 156.5,164.4 158.5,166.6 160.5,169.1 161.4,171.5 161.2,173.8 160.2,176.5 158.5,179.1 156.5,180.4 153.8,180.5 152.0,179.2 150.4,177.1 147.5,175.4 144.4,174.4 141.5,175.0 139.0,175.8 136.0,176.8 133.6,177.1 132.5,175.0 132.3,172.4" fill="#dbdbdb"/>
<polygon points="155.1,182.5 157.1,182.5 157.1,184.5 155.1,184.5" fill="#dcdcdc"/>
<polygon points="171.2,186.5 175.3,181.8 178.0,179.1 178.6,181.2 175.3,185.2 172.6,187.2" fill="#e0e0e0"/></g>
<text x="80.20" y="211.50" font-size="14.10" font-weight="bold" fill="#000" text-anchor="end" >Fastest Growing Region:</text>
<text x="45.60" y="228.00" font-size="14.00" font-weight="bold" fill="#7ab558" text-anchor="end" >North America</text>
<line x1="1.95" y1="240.4" x2="194" y2="240.4" stroke="#b5212b" stroke-width="1.8" stroke-dasharray="11.8 4.55"/>
<line x1="214.6" y1="50.2" x2="214.6" y2="439.5" stroke="#7a1c22" stroke-width="1.7" stroke-dasharray="11.8 4.6"/>
<line x1="416.3" y1="50.2" x2="416.3" y2="439.5" stroke="#951a1f" stroke-width="1.7" stroke-dasharray="11.8 4.6"/>
<line x1="429.8" y1="239.6" x2="750" y2="239.6" stroke="#8b1a1e" stroke-width="1.7" stroke-dasharray="11.8 4.59"/>
<text x="108.80" y="265.10" font-size="14.67" font-weight="bold" fill="#000" text-anchor="start" textLength="86.80" lengthAdjust="spacingAndGlyphs" >Market Size:</text>
<rect x="102" y="275.3" width="91.1" height="39.4" fill="#6aa843"/>
<text x="147.60" y="291.00" font-size="11.00" font-weight="bold" fill="#f4faef" text-anchor="middle" textLength="60.40" lengthAdjust="spacingAndGlyphs" >US$ 0.6 Bn</text>
<text x="147.50" y="307.40" font-size="11.00" font-weight="bold" fill="#f4faef" text-anchor="middle" textLength="36.90" lengthAdjust="spacingAndGlyphs" >(2024)</text>
<text x="148.50" y="366.10" font-size="14.50" font-weight="bold" fill="#000" text-anchor="middle" textLength="42.30" lengthAdjust="spacingAndGlyphs" >CAGR</text>
<text x="147.90" y="384.00" font-size="14.67" font-weight="bold" fill="#7ab558" text-anchor="middle" textLength="80.60" lengthAdjust="spacingAndGlyphs" >(2025-2034)</text>
<rect x="101.7" y="389.6" width="91.2" height="30.7" fill="#6aa843"/>
<text x="150.40" y="410.90" font-size="15.80" font-weight="bold" fill="#fff" text-anchor="middle" textLength="48.70" lengthAdjust="spacingAndGlyphs" >23.4%</text>
<text x="224.20" y="61.70" font-size="14.60" font-weight="bold" fill="#000" text-anchor="start" textLength="134.60" lengthAdjust="spacingAndGlyphs" >By Application Area:</text>
<path d="M320.00,148.80 L320.00,226.40 A77.60,77.60 0 0 1 320.00,71.20 Z" fill="#90bc7b" stroke="#f4faef" stroke-width="1.6" stroke-linejoin="round"/>
<path d="M320.00,148.80 L320.00,71.20 A77.60,77.60 0 0 1 387.34,110.23 Z" fill="#548b3b" stroke="#f4faef" stroke-width="1.6" stroke-linejoin="round"/>
<path d="M320.00,148.80 L387.34,110.23 A77.60,77.60 0 0 1 320.00,226.40 Z" fill="#6aa446" stroke="#f4faef" stroke-width="1.6" stroke-linejoin="round"/>
<text x="347.20" y="102.50" font-size="9.70" font-weight="bold" fill="#17200f" text-anchor="middle" textLength="45.70" lengthAdjust="spacingAndGlyphs" >Predictive</text>
<text x="346.50" y="115.70" font-size="9.70" font-weight="bold" fill="#17200f" text-anchor="middle" textLength="59.40" lengthAdjust="spacingAndGlyphs" >Maintenance</text>
<text x="353.60" y="168.40" font-size="9.70" font-weight="bold" fill="#17200f" text-anchor="middle" textLength="35.50" lengthAdjust="spacingAndGlyphs" >Quality</text>
<text x="353.20" y="182.30" font-size="9.70" font-weight="bold" fill="#17200f" text-anchor="middle" textLength="34.70" lengthAdjust="spacingAndGlyphs" >Control</text>
<text x="284.20" y="155.20" font-size="9.70" font-weight="bold" fill="#17200f" text-anchor="middle" textLength="32.40" lengthAdjust="spacingAndGlyphs" >Others</text>
<text x="242.10" y="241.70" font-size="14.20" font-weight="bold" fill="#000" text-anchor="start" textLength="31.40" lengthAdjust="spacingAndGlyphs" >2024</text>
<path d="M322.80,341.90 L357.07,413.75 A79.60,79.60 0 1 1 322.80,262.30 Z" fill="#90bc7b" stroke="#f4faef" stroke-width="1.6" stroke-linejoin="round"/>
<path d="M322.80,341.90 L322.80,262.30 A79.60,79.60 0 0 1 385.27,292.57 Z" fill="#548b3b" stroke="#f4faef" stroke-width="1.6" stroke-linejoin="round"/>
<path d="M322.80,341.90 L385.27,292.57 A79.60,79.60 0 0 1 357.07,413.75 Z" fill="#6aa446" stroke="#f4faef" stroke-width="1.6" stroke-linejoin="round"/>
<text x="243.30" y="433.60" font-size="14.20" font-weight="bold" fill="#000" text-anchor="start" textLength="31.60" lengthAdjust="spacingAndGlyphs" >2034</text>
<text x="349.10" y="286.30" font-size="9.70" font-weight="bold" fill="#17200f" text-anchor="middle" textLength="45.20" lengthAdjust="spacingAndGlyphs" >Predictive</text>
<text x="348.75" y="299.40" font-size="9.70" font-weight="bold" fill="#17200f" text-anchor="middle" textLength="59.70" lengthAdjust="spacingAndGlyphs" >Maintenance</text>
<text x="365.20" y="359.90" font-size="9.70" font-weight="bold" fill="#17200f" text-anchor="middle" textLength="36.30" lengthAdjust="spacingAndGlyphs" >Quality</text>
<text x="364.50" y="374.60" font-size="9.70" font-weight="bold" fill="#17200f" text-anchor="middle" textLength="36.00" lengthAdjust="spacingAndGlyphs" >Control</text>
<text x="281.50" y="376.90" font-size="9.70" font-weight="bold" fill="#17200f" text-anchor="middle" textLength="32.90" lengthAdjust="spacingAndGlyphs" >Others</text>
<text y="63.7" font-size="14.6" font-weight="bold" fill="#000"><tspan x="436.6" textLength="16.9" lengthAdjust="spacingAndGlyphs">By</tspan> <tspan x="462.9" textLength="80.8" lengthAdjust="spacingAndGlyphs">Technology:</tspan></text>
<line x1="465.1" y1="165.40" x2="750" y2="165.40" stroke="#e1e1e1" stroke-width="1"/>
<line x1="465.1" y1="156.18" x2="750" y2="156.18" stroke="#e1e1e1" stroke-width="1"/>
<line x1="465.1" y1="146.96" x2="750" y2="146.96" stroke="#e1e1e1" stroke-width="1"/>
<line x1="465.1" y1="137.74" x2="750" y2="137.74" stroke="#e1e1e1" stroke-width="1"/>
<line x1="465.1" y1="128.52" x2="750" y2="128.52" stroke="#e1e1e1" stroke-width="1"/>
<line x1="465.1" y1="119.30" x2="750" y2="119.30" stroke="#e1e1e1" stroke-width="1"/>
<line x1="465.1" y1="110.08" x2="750" y2="110.08" stroke="#e1e1e1" stroke-width="1"/>
<line x1="465.1" y1="100.86" x2="750" y2="100.86" stroke="#e1e1e1" stroke-width="1"/>
<line x1="465.1" y1="91.64" x2="750" y2="91.64" stroke="#e1e1e1" stroke-width="1"/>
<line x1="465.1" y1="82.42" x2="750" y2="82.42" stroke="#e1e1e1" stroke-width="1"/>
<rect x="487.65" y="110.08" width="30" height="55.32" fill="#62993e"/>
<rect x="517.65" y="91.64" width="30" height="73.76" fill="#a3c590"/>
<rect x="592.68" y="128.52" width="30" height="36.88" fill="#62993e"/>
<rect x="622.68" y="110.08" width="30" height="55.32" fill="#a3c590"/>
<rect x="697.71" y="146.96" width="30" height="18.44" fill="#62993e"/>
<rect x="727.71" y="128.52" width="30" height="36.88" fill="#a3c590"/>
<line x1="465.15" y1="165.4" x2="465.15" y2="169.6" stroke="#e1e1e1" stroke-width="1"/>
<line x1="570.18" y1="165.4" x2="570.18" y2="169.6" stroke="#e1e1e1" stroke-width="1"/>
<line x1="675.21" y1="165.4" x2="675.21" y2="169.6" stroke="#e1e1e1" stroke-width="1"/>
<line x1="780.24" y1="165.4" x2="780.24" y2="169.6" stroke="#e1e1e1" stroke-width="1"/>
<text x="517.70" y="185.10" font-size="10.30" font-weight="bold" fill="#595959" text-anchor="middle" textLength="82.00" lengthAdjust="spacingAndGlyphs" >Computer Vision</text>
<text x="622.80" y="185.10" font-size="10.30" font-weight="bold" fill="#595959" text-anchor="middle" textLength="71.40" lengthAdjust="spacingAndGlyphs" >Deep Learning</text>
<text x="727.30" y="185.10" font-size="10.30" font-weight="bold" fill="#595959" text-anchor="middle" textLength="33.00" lengthAdjust="spacingAndGlyphs" >Others</text>
<text x="433.70" y="264.80" font-size="14.60" font-weight="bold" fill="#000" text-anchor="start" textLength="98.00" lengthAdjust="spacingAndGlyphs" >By AI solution:</text>
<line x1="522.70" y1="294.4" x2="522.70" y2="409.5" stroke="#e4e4e4" stroke-width="1"/>
<line x1="571.30" y1="294.4" x2="571.30" y2="409.5" stroke="#e4e4e4" stroke-width="1"/>
<line x1="619.90" y1="294.4" x2="619.90" y2="409.5" stroke="#e4e4e4" stroke-width="1"/>
<line x1="668.50" y1="294.4" x2="668.50" y2="409.5" stroke="#e4e4e4" stroke-width="1"/>
<line x1="717.10" y1="294.4" x2="717.10" y2="409.5" stroke="#e4e4e4" stroke-width="1"/>
<line x1="519.5" y1="294.40" x2="522.70" y2="294.40" stroke="#e1e1e1" stroke-width="1"/>
<line x1="519.5" y1="332.90" x2="522.70" y2="332.90" stroke="#e1e1e1" stroke-width="1"/>
<line x1="519.5" y1="371.40" x2="522.70" y2="371.40" stroke="#e1e1e1" stroke-width="1"/>
<line x1="519.5" y1="409.50" x2="522.70" y2="409.50" stroke="#e1e1e1" stroke-width="1"/>
<rect x="522.70" y="301.70" width="72.90" height="23.4" fill="#62993e"/>
<rect x="595.60" y="301.70" width="97.20" height="23.4" fill="#a9cd97"/>
<rect x="522.70" y="340.20" width="48.60" height="23.4" fill="#62993e"/>
<rect x="571.30" y="340.20" width="72.90" height="23.4" fill="#a9cd97"/>
<rect x="522.70" y="378.70" width="24.30" height="23.4" fill="#62993e"/>
<rect x="547.00" y="378.70" width="48.60" height="23.4" fill="#a9cd97"/>
<text x="473.30" y="309.40" font-size="10.30" font-weight="bold" fill="#595959" text-anchor="middle" textLength="75.30" lengthAdjust="spacingAndGlyphs" >Personalized AI</text>
<text x="472.70" y="323.60" font-size="10.30" font-weight="bold" fill="#595959" text-anchor="middle" textLength="44.30" lengthAdjust="spacingAndGlyphs" >solutions</text>
<text x="511.00" y="348.00" font-size="10.30" font-weight="bold" fill="#595959" text-anchor="end" textLength="74.10" lengthAdjust="spacingAndGlyphs" >Standard / Off-</text>
<text x="511.00" y="362.20" font-size="10.30" font-weight="bold" fill="#595959" text-anchor="end" textLength="65.00" lengthAdjust="spacingAndGlyphs" >the-shelf AI…</text>
<text x="511.00" y="393.10" font-size="10.30" font-weight="bold" fill="#595959" text-anchor="end" textLength="33.20" lengthAdjust="spacingAndGlyphs" >Others</text>
<text x="442.00" y="427.50" font-size="9.00" font-weight="normal" fill="#222" text-anchor="start" textLength="332.60" lengthAdjust="spacingAndGlyphs" style="font-style:italic" >*Pie Charts and Bar Graphs are for illustration only and do not represent actual data</text>
<rect x="0" y="498.8" width="168.9" height="38" fill="#74b33a"/>
<rect x="168.9" y="498.6" width="582" height="38" fill="#000"/>
<text x="2" y="520.8" font-size="16" font-weight="bold" fill="#0c0c0c" style="letter-spacing:2.6px">607 400-7072</text>
<text x="177.60" y="523.00" font-size="15.00" font-weight="normal" fill="#fff" text-anchor="start" textLength="256.00" lengthAdjust="spacingAndGlyphs" >Email: info@insightaceanalytic.com</text>
<rect x="590" y="499.6" width="3.3" height="3.7" fill="#6fb13b"/>
<path d="M590,524.4 V504.6 H593.4 Q601,505 601,513 V524.4 H597.6 V519.8 H593.4 V524.4 Z M593.4,508.2 V516.4 H597.6 V513 Q597.6,508.6 593.4,508.2 Z" fill="#fff" fill-rule="evenodd"/>
<text x="616.00" y="519.60" font-size="12.40" font-weight="bold" fill="#fff" text-anchor="start" style="letter-spacing:3.6px" >INSIGHT ACE ANALYTIC</text>
<text x="0.90" y="485.90" font-size="12.00" font-weight="bold" fill="#000" text-anchor="start" >:</text>
<path d="M17.1,451.2 H61 V495.1 H17.1 V490.6 H56.4 V475.7 H26.9 V471.1 H56.4 V455.8 H17.1 Z" fill="#0a0a0a"/>
<path d="M17.1,461 H51 V465.8 H21.9 V480.8 H51 V485.5 H17.1 Z" fill="#0a0a0a"/>
<text x="68.90" y="493.50" font-size="31.30" font-weight="bold" fill="#0a0a0a" text-anchor="start" textLength="78.60" lengthAdjust="spacingAndGlyphs" >C3.ai</text>
<text y="493.1" font-size="34.6" font-weight="bold" fill="#0a0a0a" stroke="#0a0a0a" stroke-width="1.0" stroke-linejoin="miter"><tspan x="222.6" textLength="32.7" lengthAdjust="spacingAndGlyphs">A</tspan><tspan x="255.3" textLength="32.8" lengthAdjust="spacingAndGlyphs">M</tspan><tspan x="287" textLength="28.7" lengthAdjust="spacingAndGlyphs">D</tspan></text>
<polygon points="318.00,466.20 348.00,466.20 348.00,495.09 339.60,487.00 339.60,474.58 326.70,474.58" fill="#0a0a0a"/>
<polygon points="318.00,484.69 326.70,476.31 326.70,487.00 337.80,487.00 329.40,495.09 318.00,495.09" fill="#0a0a0a"/>
<g transform="translate(420,455) scale(0.08403)" fill="#0d76bd"><path d="M340,150 C310,110 260,90 215,92 C140,95 72,150 72,215 C72,270 100,300 130,330 L188,390 A28,28 0 0 0 228,352 L170,290 C140,260 128,240 128,210 C128,165 170,132 225,130 C270,130 310,138 340,150 Z"/><path d="M340,150 C310,110 260,90 215,92 C140,95 72,150 72,215 C72,270 100,300 130,330 L188,390 A28,28 0 0 0 228,352 L170,290 C140,260 128,240 128,210 C128,165 170,132 225,130 C270,130 310,138 340,150 Z" transform="rotate(180 213.5 291)"/></g>
<text x="451.70" y="488.60" font-size="42.20" font-weight="normal" fill="#0a0a0a" text-anchor="start" style="letter-spacing:-2.2px" >sas</text>
<text x="470.60" y="490.20" font-size="3.20" font-weight="normal" fill="#555" text-anchor="start" >®</text>
<text x="511.40" y="490.20" font-size="3.20" font-weight="normal" fill="#555" text-anchor="start" >®</text>
<text x="448.60" y="491.60" font-size="3.20" font-weight="normal" fill="#555" text-anchor="start" >®</text>
<text y="484.9" font-size="30.8" fill="#a2a2a2"><tspan x="588" textLength="84.6" lengthAdjust="spacingAndGlyphs">kalyps</tspan><tspan x="670.5" y="484.3" font-size="27" fill="#1f5fa8" stroke="#1f5fa8" stroke-width="0.35" textLength="17.4" lengthAdjust="spacingAndGlyphs">o</tspan></text>
<path d="M671.94,468.44 A11.30,11.30 0 0 1 686.76,468.70" fill="none" stroke="#1f5fa8" stroke-width="0.9" stroke-linecap="round"/>
<path d="M686.48,470.99 A9.50,9.50 0 0 1 686.48,483.21" fill="none" stroke="#1f5fa8" stroke-width="1.4" stroke-linecap="round"/>
<path d="M684.99,483.99 A9.00,9.00 0 0 1 673.41,483.99" fill="none" stroke="#1f5fa8" stroke-width="0.9" stroke-linecap="round"/>
<path d="M685.85,485.61 A10.80,10.80 0 0 1 672.55,485.61" fill="none" stroke="#1f5fa8" stroke-width="0.9" stroke-linecap="round"/>
<text transform="translate(731.3,496.2) scale(0.82,1)" font-size="48" font-weight="bold" fill="#2a6fc0" style="font-family:'Liberation Mono',monospace">IBM</text>
<rect x="735.4" y="464.2" width="15" height="2.1" fill="#2a6fc0"/>
<rect x="735.4" y="468.1" width="15" height="2.1" fill="#2a6fc0"/>
<rect x="735.4" y="489.8" width="15" height="2.1" fill="#2a6fc0"/>
<rect x="735.4" y="494.1" width="15" height="2.1" fill="#2a6fc0"/>
<rect x="730" y="470.2" width="10.2" height="19.6" fill="#fff"/>
<rect x="746.2" y="470.2" width="5" height="19.6" fill="#fff"/>
<rect x="730" y="462" width="5.4" height="36" fill="#fff"/>
<rect x="732" y="466.3" width="19" height="1.8" fill="#fff"/>
<rect x="732" y="470.2" width="19" height="2.1" fill="#fff"/>
<rect x="732" y="474.4" width="19" height="2.2" fill="#fff"/>
<rect x="732" y="478.7" width="19" height="2.2" fill="#fff"/>
<rect x="732" y="483.0" width="19" height="2.2" fill="#fff"/>
<rect x="732" y="487.3" width="19" height="2.5" fill="#fff"/>
<rect x="732" y="491.9" width="19" height="2.2" fill="#fff"/>
</svg>
</body></html>
